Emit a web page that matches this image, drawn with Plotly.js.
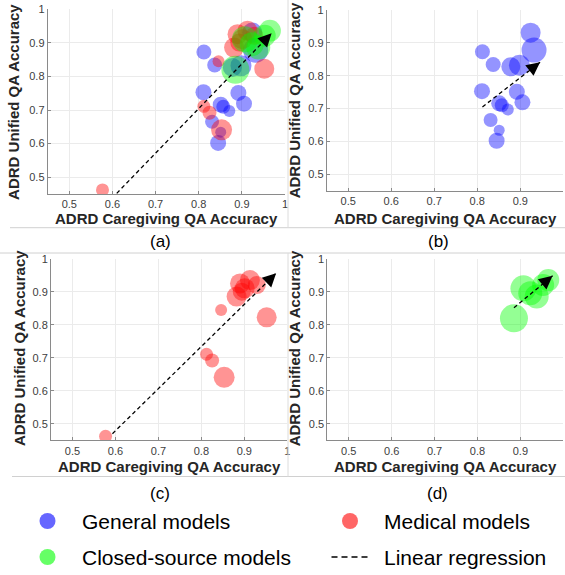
<!DOCTYPE html>
<html>
<head>
<meta charset="utf-8">
<script src="https://cdn.plot.ly/plotly-3.0.1.min.js"></script>
<style>html,body{margin:0;padding:0;background:#fff;}#chart{width:565px;height:575px;}</style>
</head>
<body>
<div id="chart"></div>
<script>
// ---- data ----
var generalX = [0.924, 0.932, 0.812, 0.837, 0.878, 0.898, 0.811, 0.892, 0.905, 0.851, 0.857, 0.871, 0.831, 0.851, 0.845];
var generalY = [0.931, 0.878, 0.873, 0.834, 0.827, 0.832, 0.753, 0.751, 0.719, 0.716, 0.710, 0.697, 0.665, 0.634, 0.602];
var generalSize = [20, 25, 15, 15, 19, 21, 16, 16, 16, 16, 14, 12, 14, 11, 16];

var medicalX = [0.577, 0.846, 0.952, 0.812, 0.825, 0.853, 0.882, 0.890, 0.913, 0.929, 0.901, 0.894];
var medicalY = [0.462, 0.845, 0.823, 0.711, 0.692, 0.641, 0.886, 0.926, 0.936, 0.921, 0.911, 0.901];
var medicalSize = [13, 12, 20, 13, 14, 21, 20, 20, 20, 18, 20, 18];

var closedX = [0.885, 0.907, 0.965, 0.938, 0.953, 0.923];
var closedY = [0.820, 0.911, 0.936, 0.886, 0.921, 0.896];
var closedSize = [28, 26, 22, 24, 22, 24];

// regression line end points (start, tip) per panel
var regAllX = [0.610, 0.969], regAllY = [0.452, 0.929];
var regGenX = [0.812, 0.946], regGenY = [0.705, 0.841];
var regMedX = [0.593, 0.974], regMedY = [0.470, 0.957];
var regCloX = [0.885, 0.975], regCloY = [0.852, 0.949];

var tickVals = [0.5, 0.6, 0.7, 0.8, 0.9, 1];
var tickLabels = ['0.5', '0.6', '0.7', '0.8', '0.9', '1'];
var axisRange = [0.45, 1];

var xTitle = 'ADRD Caregiving QA Accuracy';
var yTitle = 'ADRD Unified QA Accuracy';
var panelLabels = ['(a)', '(b)', '(c)', '(d)'];
var legendNames = ['General models', 'Medical models', 'Closed-source models', 'Linear regression'];

// ---- styling ----
var W = 565, H = 575;
function px(x){ return x / W; }
function py(y){ return 1 - y / H; }
var FONT = 'Arial, "Liberation Sans", sans-serif';
var BLUE = 'rgba(0,0,255,0.6)', RED = 'rgba(255,0,0,0.6)', GREEN = 'rgba(0,255,0,0.6)';

function pts(x, y, s, color, xa, ya){
  return {type:'scatter', mode:'markers', x:x, y:y, xaxis:xa, yaxis:ya, showlegend:false, hoverinfo:'skip',
    marker:{size:s, color:color, line:{width:0}}};
}
function reg(x, y, xa, ya){
  return {type:'scatter', mode:'lines', x:x, y:y, xaxis:xa, yaxis:ya, showlegend:false, hoverinfo:'skip',
    line:{color:'#000', width:1.3, dash:'4px,3px'}};
}

var data = [
  pts(generalX, generalY, generalSize, BLUE, 'x', 'y'),
  pts(medicalX, medicalY, medicalSize, RED, 'x', 'y'),
  pts(closedX, closedY, closedSize, GREEN, 'x', 'y'),
  reg(regAllX, regAllY, 'x', 'y'),
  pts(generalX, generalY, generalSize, BLUE, 'x2', 'y2'),
  reg(regGenX, regGenY, 'x2', 'y2'),
  pts(medicalX, medicalY, medicalSize, RED, 'x3', 'y3'),
  reg(regMedX, regMedY, 'x3', 'y3'),
  pts(closedX, closedY, closedSize, GREEN, 'x4', 'y4'),
  reg(regCloX, regCloY, 'x4', 'y4')
];

function axis(domain, anchor){
  return {domain:domain, anchor:anchor, range:axisRange, tickvals:tickVals, ticktext:tickLabels,
    showline:true, linecolor:'#8a8a8a', linewidth:1, mirror:false, zeroline:false,
    showgrid:true, gridcolor:'#ebebeb', gridwidth:1,
    ticks:'inside', ticklen:3, tickcolor:'#8a8a8a',
    tickfont:{family:FONT, size:11, color:'#404040'}, fixedrange:true};
}

// panel rectangles in pixels: [left, right, top, bottom]
var rects = [[47.7, 285, 9.3, 194], [326.7, 563.3, 10, 190.7], [51, 287.3, 259, 440.3], [327.3, 563.3, 259, 440.3]];
var layout = {
  width:W, height:H, margin:{l:0, r:0, t:0, b:0}, paper_bgcolor:'#fff', plot_bgcolor:'#fff',
  showlegend:false, font:{family:FONT},
  annotations:[], shapes:[]
};
var names = [['xaxis','yaxis','x','y'], ['xaxis2','yaxis2','x2','y2'], ['xaxis3','yaxis3','x3','y3'], ['xaxis4','yaxis4','x4','y4']];
rects.forEach(function(r, i){
  layout[names[i][0]] = axis([px(r[0]), px(r[1])], names[i][3]);
  layout[names[i][1]] = axis([py(r[3]), py(r[2])], names[i][2]);
});

// axis titles
var xTitlePos = [[166, 218.3], [445, 218.3], [169, 466], [445, 466]];
var yTitlePos = [[13.3, 101.6], [294.3, 100], [19, 348], [294.3, 348]];
var labelPos = [[160, 241], [438, 241], [160, 494], [437, 494]];
for (var i = 0; i < 4; i++){
  layout.annotations.push({xref:'paper', yref:'paper', x:px(xTitlePos[i][0]), y:py(xTitlePos[i][1]), text:'<b>'+xTitle+'</b>',
    showarrow:false, xanchor:'center', yanchor:'middle', font:{family:FONT, size:15, color:'#262626'}});
  layout.annotations.push({xref:'paper', yref:'paper', x:px(yTitlePos[i][0]), y:py(yTitlePos[i][1]), text:'<b>'+yTitle+'</b>',
    showarrow:false, textangle:-90, xanchor:'center', yanchor:'middle', font:{family:FONT, size:15, color:'#262626'}});
  layout.annotations.push({xref:'paper', yref:'paper', x:px(labelPos[i][0]), y:py(labelPos[i][1]), text:panelLabels[i],
    showarrow:false, xanchor:'center', yanchor:'middle', font:{family:FONT, size:17, color:'#000'}});
}

// arrow heads at the regression tips
var regs = [[regAllX, regAllY, 'x', 'y'], [regGenX, regGenY, 'x2', 'y2'], [regMedX, regMedY, 'x3', 'y3'], [regCloX, regCloY, 'x4', 'y4']];
regs.forEach(function(g, i){
  var r = rects[i];
  var sx = (r[1]-r[0]) / (axisRange[1]-axisRange[0]);
  var sy = (r[3]-r[2]) / (axisRange[1]-axisRange[0]);
  var dx = (g[0][1]-g[0][0]) * sx, dy = -(g[1][1]-g[1][0]) * sy;
  var L = Math.sqrt(dx*dx + dy*dy);
  layout.annotations.push({xref:g[2], yref:g[3], x:g[0][1], y:g[1][1], text:'', showarrow:true,
    ax:-dx/L*10, ay:-dy/L*10, arrowhead:2, arrowsize:1.8, arrowwidth:1.5, arrowcolor:'#000', standoff:0});
});

// separators
var sepColor = '#d0d0d0';
layout.shapes.push({type:'line', xref:'paper', yref:'paper', x0:px(10), x1:1, y0:py(227.7), y1:py(227.7), line:{color:sepColor, width:1}});
layout.shapes.push({type:'line', xref:'paper', yref:'paper', x0:0, x1:1, y0:py(253), y1:py(253), line:{color:sepColor, width:1}});
layout.shapes.push({type:'line', xref:'paper', yref:'paper', x0:px(12), x1:1, y0:py(476.5), y1:py(476.5), line:{color:sepColor, width:1}});
layout.shapes.push({type:'line', xref:'paper', yref:'paper', x0:px(288), x1:px(288), y0:py(0), y1:py(227.7), line:{color:'#dcdcdc', width:1}});
layout.shapes.push({type:'line', xref:'paper', yref:'paper', x0:px(288), x1:px(288), y0:py(253), y1:py(476.5), line:{color:'#dcdcdc', width:1}});

// legend (drawn manually, two columns)
var legCols = [[47.5, 80], [350, 382]];
var legRows = [521, 557];
var legItems = [[0, 0, BLUE], [1, 0, RED], [0, 1, GREEN], [1, 1, null]];
legItems.forEach(function(it, k){
  var c = legCols[it[0]], yy = legRows[it[1]];
  if (it[2]){
    var rr = 8;
    layout.shapes.push({type:'circle', xref:'paper', yref:'paper', x0:px(c[0]-rr), x1:px(c[0]+rr), y0:py(yy+rr), y1:py(yy-rr),
      fillcolor:it[2], line:{width:0}});
  } else {
    layout.shapes.push({type:'line', xref:'paper', yref:'paper', x0:px(331.5), x1:px(371), y0:py(yy), y1:py(yy),
      line:{color:'#000', width:1.3, dash:'6px,4px'}});
  }
  layout.annotations.push({xref:'paper', yref:'paper', x:px(c[1]), y:py(yy), text:legendNames[k], showarrow:false,
    xanchor:'left', yanchor:'middle', font:{family:FONT, size:21, color:'#000'}});
});

Plotly.newPlot('chart', data, layout, {displayModeBar:false, staticPlot:true});
</script>
</body>
</html>
